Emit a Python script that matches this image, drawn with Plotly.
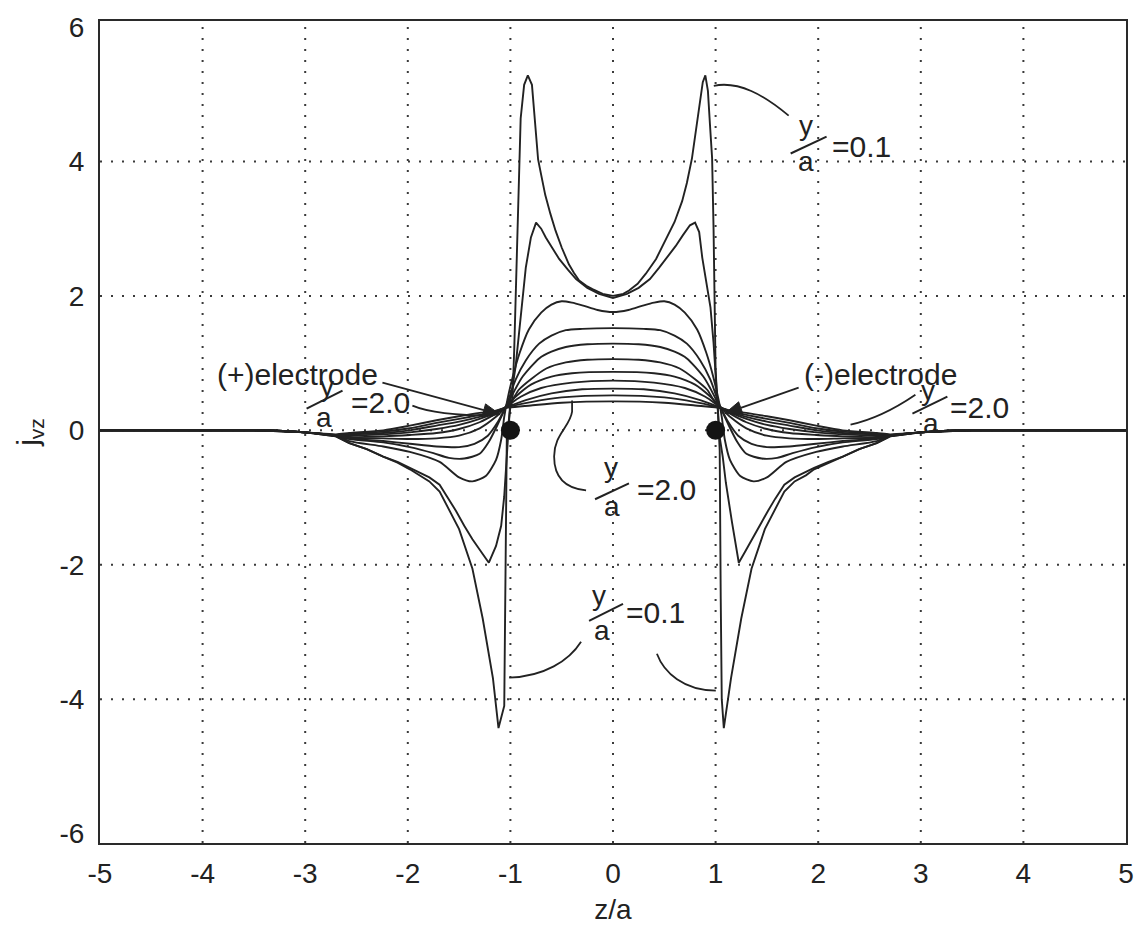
import math
import plotly.graph_objects as go

# ---------------- data ----------------
# y/a = 0.1
z1 = [-5, -4, -3.5, -3, -2.7, -2.57, -2.4, -2.24, -2.1, -1.98, -1.88, -1.79, -1.69, -1.6, -1.5,
      -1.37, -1.27, -1.17, -1.116, -1.06, -1.045, -1.035, -1.0, -0.98, -0.963, -0.946, -0.93, -0.915,
      -0.9, -0.866, -0.83, -0.79, -0.765, -0.73, -0.7, -0.66, -0.61, -0.56, -0.5, -0.43, -0.38, -0.33,
      -0.26, -0.2, -0.1, 0, 0.1, 0.156, 0.24, 0.32, 0.42, 0.51, 0.6, 0.674, 0.72, 0.77, 0.837, 0.875,
      0.9, 0.925, 0.945, 0.966, 0.98, 0.99, 1.0, 1.02, 1.04, 1.05, 1.06, 1.08, 1.15, 1.25, 1.35, 1.48,
      1.58, 1.67, 1.77, 1.88, 1.96, 2.1, 2.24, 2.4, 2.57, 2.7, 3, 3.5, 4, 5]
v1 = [0, 0, 0, -0.03, -0.09, -0.19, -0.28, -0.39, -0.48, -0.58, -0.67, -0.76, -0.91, -1.17, -1.47,
      -2.06, -2.8, -3.69, -4.43, -4.1, -2.0, -0.1, 0.35, 0.45, 1.19, 2.18, 3.16, 3.9,
      4.64, 5.14, 5.28, 5.14, 4.7, 4.03, 3.8, 3.5, 3.22, 2.97, 2.72, 2.47, 2.34, 2.23,
      2.15, 2.1, 2.03, 2.0, 2.03, 2.08, 2.18, 2.33, 2.55, 2.82, 3.1, 3.41, 3.68, 4.05, 4.79, 5.18,
      5.28, 5.05, 4.55, 4.05, 3.0, 1.9, 0.9, 0.35, -0.3, -2.5, -4.0, -4.43, -3.69, -2.8, -2.06, -1.47,
      -1.17, -0.91, -0.76, -0.67, -0.58, -0.48, -0.39, -0.28, -0.19, -0.09, -0.03, 0, 0, 0]

# y/a = 0.2
z2 = [-5, -4, -3.5, -3, -2.7, -2.57, -2.4, -2.24, -2.1, -1.98, -1.79, -1.69, -1.6, -1.53, -1.45,
      -1.37, -1.27, -1.21, -1.14, -1.09, -1.06, -1.03, -1.01, -1.0, -0.95, -0.9, -0.85, -0.8, -0.75,
      -0.7, -0.655, -0.59, -0.525, -0.44, -0.36, -0.25, -0.136, 0, 0.136, 0.25, 0.36, 0.45, 0.53,
      0.61, 0.68, 0.75, 0.8, 0.84, 0.87, 0.91, 0.95, 0.98, 1.0, 1.02, 1.04, 1.07, 1.1, 1.16, 1.226,
      1.29, 1.355, 1.43, 1.51, 1.58, 1.67, 1.77, 1.96, 2.1, 2.24, 2.4, 2.57, 2.7, 3, 3.5, 4, 5]
v2 = [0, 0, 0, -0.03, -0.09, -0.19, -0.28, -0.39, -0.47, -0.56, -0.7, -0.81, -1.02, -1.2, -1.42,
      -1.62, -1.84, -1.97, -1.72, -1.42, -0.98, -0.34, 0.2, 0.45, 0.94, 1.68, 2.42, 2.87, 3.09,
      3.0, 2.87, 2.71, 2.55, 2.39, 2.25, 2.12, 2.03, 1.97, 2.03, 2.12, 2.25, 2.42, 2.58,
      2.74, 2.9, 3.05, 3.09, 2.95, 2.57, 2.2, 1.83, 1.3, 0.85, 0.35, -0.1, -0.4, -0.78, -1.37, -1.97,
      -1.8, -1.62, -1.42, -1.2, -1.02, -0.81, -0.7, -0.56, -0.47, -0.39, -0.28, -0.19, -0.09, -0.03, 0, 0, 0]

# y/a = 0.4
z3 = [-5, -4, -3.5, -3, -2.7, -2.57, -2.24, -1.98, -1.69, -1.5, -1.37, -1.24, -1.14, -1.09, -1.06,
      -1.03, -0.98, -0.91, -0.82, -0.7, -0.6, -0.5, -0.4, -0.3, -0.15, 0, 0.15, 0.3, 0.4, 0.5, 0.6,
      0.7, 0.82, 0.91, 0.98, 1.03, 1.06, 1.09, 1.14, 1.24, 1.37, 1.5, 1.69, 1.98, 2.24, 2.57, 2.7,
      3, 3.5, 4, 5]
v3 = [0, 0, 0, -0.03, -0.08, -0.16, -0.24, -0.32, -0.47, -0.7, -0.76, -0.68, -0.44, -0.14, 0.2,
      0.45, 0.78, 1.15, 1.5, 1.75, 1.87, 1.92, 1.9, 1.86, 1.79, 1.76, 1.79, 1.86, 1.9, 1.92, 1.87,
      1.75, 1.5, 1.15, 0.78, 0.45, 0.2, -0.14, -0.44, -0.68, -0.76, -0.7, -0.47, -0.32, -0.24, -0.16, -0.08,
      -0.03, 0, 0, 0]

# y/a = 0.6
z4 = [-5, -4, -3.5, -3, -2.7, -2.57, -2.24, -1.98, -1.75, -1.6, -1.45, -1.3, -1.21, -1.12, -1.06,
      -1.02, -0.95, -0.85, -0.72, -0.6, -0.46, -0.3, 0, 0.3, 0.46, 0.6, 0.72, 0.85, 0.95, 1.02,
      1.06, 1.12, 1.21, 1.3, 1.45, 1.6, 1.75, 1.98, 2.24, 2.57, 2.7, 3, 3.5, 4, 5]
v4 = [0, 0, 0, -0.03, -0.08, -0.13, -0.18, -0.25, -0.34, -0.41, -0.42, -0.35, -0.17, 0.1, 0.3,
      0.45, 0.75, 1.04, 1.29, 1.41, 1.49, 1.51, 1.52, 1.51, 1.49, 1.41, 1.29, 1.04, 0.75, 0.45,
      0.3, 0.1, -0.17, -0.35, -0.42, -0.41, -0.34, -0.25, -0.18, -0.13, -0.08, -0.03, 0, 0, 0]

# y/a = 0.8
z5 = [-5, -4, -3.5, -3, -2.7, -2.57, -2.24, -1.98, -1.72, -1.5, -1.35, -1.22, -1.12, -1.06, -1.0,
      -0.95, -0.88, -0.72, -0.6, -0.46, -0.25, 0, 0.25, 0.46, 0.6, 0.72, 0.88, 0.95, 1.0, 1.06,
      1.12, 1.22, 1.35, 1.5, 1.72, 1.98, 2.24, 2.57, 2.7, 3, 3.5, 4, 5]
v5 = [0, 0, 0, -0.03, -0.08, -0.12, -0.16, -0.2, -0.24, -0.25, -0.2, -0.08, 0.13, 0.3, 0.47,
      0.62, 0.8, 1.07, 1.17, 1.24, 1.28, 1.29, 1.28, 1.24, 1.17, 1.07, 0.8, 0.62, 0.47, 0.3,
      0.13, -0.08, -0.2, -0.25, -0.24, -0.2, -0.16, -0.12, -0.08, -0.03, 0, 0, 0]

# y/a = 1.0
z6 = [-5, -4, -3.5, -3, -2.7, -2.57, -2.24, -1.98, -1.72, -1.5, -1.3, -1.15, -1.06, -0.98, -0.92,
      -0.8, -0.65, -0.46, -0.25, 0, 0.25, 0.46, 0.65, 0.8, 0.92, 0.98, 1.06, 1.15, 1.3, 1.5,
      1.72, 1.98, 2.24, 2.57, 2.7, 3, 3.5, 4, 5]
v6 = [0, 0, 0, -0.03, -0.08, -0.11, -0.12, -0.13, -0.12, -0.08, 0.03, 0.19, 0.32, 0.45, 0.6,
      0.76, 0.92, 1.01, 1.05, 1.06, 1.05, 1.01, 0.92, 0.76, 0.6, 0.45, 0.32, 0.19, 0.03, -0.08,
      -0.12, -0.13, -0.12, -0.11, -0.08, -0.03, 0, 0, 0]

# y/a = 1.2
z7 = [-5, -4, -3.5, -3, -2.7, -2.57, -2.24, -1.98, -1.72, -1.5, -1.3, -1.15, -1.06, -0.95, -0.8,
      -0.6, -0.4, 0, 0.4, 0.6, 0.8, 0.95, 1.06, 1.15, 1.3, 1.5, 1.72, 1.98, 2.24, 2.57, 2.7,
      3, 3.5, 4, 5]
v7 = [0, 0, 0, -0.03, -0.08, -0.1, -0.09, -0.07, -0.04, 0.02, 0.12, 0.24, 0.33, 0.5, 0.68,
      0.8, 0.85, 0.87, 0.85, 0.8, 0.68, 0.5, 0.33, 0.24, 0.12, 0.02, -0.04, -0.07, -0.09, -0.1, -0.08,
      -0.03, 0, 0, 0]

# y/a = 1.4
z8 = [-5, -4, -3.5, -3, -2.7, -2.57, -2.24, -1.98, -1.72, -1.5, -1.3, -1.15, -1.06, -0.9, -0.7,
      -0.4, 0, 0.4, 0.7, 0.9, 1.06, 1.15, 1.3, 1.5, 1.72, 1.98, 2.24, 2.57, 2.7, 3, 3.5, 4, 5]
v8 = [0, 0, 0, -0.03, -0.08, -0.08, -0.06, -0.03, 0.02, 0.08, 0.17, 0.26, 0.33, 0.5, 0.63,
      0.71, 0.74, 0.71, 0.63, 0.5, 0.33, 0.26, 0.17, 0.08, 0.02, -0.03, -0.06, -0.08, -0.08, -0.03, 0, 0, 0]

# y/a = 1.6
z9 = [-5, -4, -3.5, -3, -2.7, -2.57, -2.24, -1.98, -1.72, -1.5, -1.3, -1.15, -1.06, -0.85, -0.6,
      -0.3, 0, 0.3, 0.6, 0.85, 1.06, 1.15, 1.3, 1.5, 1.72, 1.98, 2.24, 2.57, 2.7, 3, 3.5, 4, 5]
v9 = [0, 0, 0, -0.03, -0.07, -0.06, -0.04, 0.0, 0.07, 0.13, 0.2, 0.27, 0.33, 0.45, 0.55,
      0.61, 0.62, 0.61, 0.55, 0.45, 0.33, 0.27, 0.2, 0.13, 0.07, 0.0, -0.04, -0.06, -0.07, -0.03, 0, 0, 0]

# y/a = 1.8
z10 = [-5, -4, -3.5, -3, -2.7, -2.57, -2.24, -1.98, -1.72, -1.5, -1.3, -1.15, -1.06, -0.8, -0.5,
       0, 0.5, 0.8, 1.06, 1.15, 1.3, 1.5, 1.72, 1.98, 2.24, 2.57, 2.7, 3, 3.5, 4, 5]
v10 = [0, 0, 0, -0.03, -0.07, -0.05, -0.02, 0.03, 0.11, 0.17, 0.23, 0.28, 0.33, 0.42, 0.49,
       0.52, 0.49, 0.42, 0.33, 0.28, 0.23, 0.17, 0.11, 0.03, -0.02, -0.05, -0.07, -0.03, 0, 0, 0]

# y/a = 2.0
z11 = [-5, -4, -3.5, -3, -2.7, -2.57, -2.24, -1.98, -1.72, -1.5, -1.3, -1.15, -1.06, -0.8, -0.5,
       0, 0.5, 0.8, 1.06, 1.15, 1.3, 1.5, 1.72, 1.98, 2.24, 2.57, 2.7, 3, 3.5, 4, 5]
v11 = [0, 0, 0, -0.03, -0.06, -0.04, 0.0, 0.07, 0.15, 0.21, 0.26, 0.29, 0.33, 0.37, 0.41,
       0.43, 0.41, 0.37, 0.33, 0.29, 0.26, 0.21, 0.15, 0.07, 0.0, -0.04, -0.06, -0.03, 0, 0, 0]

electrode_z = [-1, 1]
electrode_v = [0, 0]

x_ticks = [-5, -4, -3, -2, -1, 0, 1, 2, 3, 4, 5]
y_ticks = [-6, -4, -2, 0, 2, 4, 6]
x_grid = [-4, -3, -2, -1, 0, 1, 2, 3, 4]
y_grid = [-4, -2, 0, 2, 4]

curves = [(z1, v1, "linear"), (z2, v2, "linear"), (z3, v3, "spline"), (z4, v4, "spline"),
          (z5, v5, "spline"), (z6, v6, "spline"), (z7, v7, "spline"), (z8, v8, "spline"),
          (z9, v9, "spline"), (z10, v10, "spline"), (z11, v11, "spline")]
for z, v, _ in curves:
    if len(z) != len(v):
        raise ValueError("length mismatch")

# ---------------- layout geometry ----------------
W_FIG, H_FIG = 1146, 946
L, T, W, H = 100, 18, 1028, 825
XR = [-5, 5]
YR = [-6.14, 6.09]
FONT = "Liberation Sans, Arial, sans-serif"
INK = "#222222"


def px(X, Y):
    """pixel position of the page -> data coordinates"""
    return (XR[0] + (X - L) / W * (XR[1] - XR[0]),
            YR[1] - (Y - T) / H * (YR[1] - YR[0]))


def path(cmds):
    out = []
    for c, pts in cmds:
        coords = " ".join("{:.4f},{:.4f}".format(*px(*p)) for p in pts)
        out.append(c + " " + coords)
    return " ".join(out)


fig = go.Figure()
for z, v, shp in curves:
    line = dict(color=INK, width=1.9, shape=shp)
    if shp == "spline":
        line["smoothing"] = 0.7
    fig.add_trace(go.Scatter(x=z, y=v, mode="lines", line=line,
                             hoverinfo="skip", showlegend=False))

fig.add_trace(go.Scatter(x=electrode_z, y=electrode_v, mode="markers",
                         marker=dict(size=19, color="#141414"),
                         hoverinfo="skip", showlegend=False))

shapes = []
dot = dict(color="#3a3a3a", width=2, dash="2px,9px")
for g in x_grid:
    shapes.append(dict(type="line", xref="x", yref="y", x0=g, x1=g, y0=YR[0], y1=YR[1],
                       line=dot, layer="below"))
for g in y_grid:
    shapes.append(dict(type="line", xref="x", yref="y", x0=XR[0], x1=XR[1], y0=g, y1=g,
                       line=dot, layer="below"))

lead = dict(color=INK, width=1.8)
# leader curves of the labels
for cmds in (
    [("M", [(715, 83)]), ("C", [(740, 78), (765, 92), (790, 113)])],
    [("M", [(413, 404)]), ("C", [(432, 412), (462, 414), (494, 414)])],
    [("M", [(852, 423)]), ("C", [(875, 418), (895, 408), (917, 393)])],
    [("M", [(573, 399)]), ("L", [(573, 410)]), ("C", [(571, 425), (555, 433), (555, 455)]),
     ("C", [(555, 476), (566, 487), (587, 489)])],
    [("M", [(582, 641)]), ("C", [(570, 660), (545, 676), (510, 677)])],
    [("M", [(658, 653)]), ("C", [(665, 672), (685, 690), (717, 690)])],
):
    shapes.append(dict(type="path", xref="x", yref="y", line=lead, path=path(cmds)))

# electrode arrows (line + solid head)
for tail, head in (((383, 381), (501, 413)), ((800, 386), (726, 412))):
    dx, dy = head[0] - tail[0], head[1] - tail[1]
    n = math.hypot(dx, dy)
    ux, uy = dx / n, dy / n
    hl, hw = 17, 6.5
    base = (head[0] - ux * hl, head[1] - uy * hl)
    left = (base[0] - uy * hw, base[1] + ux * hw)
    right = (base[0] + uy * hw, base[1] - ux * hw)
    x0, y0 = px(*tail)
    x1, y1 = px(*base)
    shapes.append(dict(type="line", xref="x", yref="y", x0=x0, y0=y0, x1=x1, y1=y1,
                       line=dict(color=INK, width=1.8)))
    shapes.append(dict(type="path", xref="x", yref="y", fillcolor=INK,
                       line=dict(color=INK, width=1),
                       path=path([("M", [head]), ("L", [left]), ("L", [right])]) + " Z"))

annotations = []


def text_at(X, Y, t, size):
    x, y = px(X, Y)
    annotations.append(dict(x=x, y=y, xref="x", yref="y", text=t, showarrow=False,
                            xanchor="center", yanchor="middle",
                            font=dict(family=FONT, size=size, color=INK)))


def frac_label(ycen, acen, s1, s2, eqcen, eqtext):
    text_at(ycen[0], ycen[1], "y", 28)
    text_at(acen[0], acen[1], "a", 28)
    text_at(eqcen[0], eqcen[1], eqtext, 30)
    x0, y0 = px(*s1)
    x1, y1 = px(*s2)
    shapes.append(dict(type="line", xref="x", yref="y", x0=x0, y0=y0, x1=x1, y1=y1,
                       line=dict(color=INK, width=2)))


frac_label((807, 123), (807, 159), (792, 151), (828, 134), (863, 144), "=0.1")
frac_label((327, 385), (324, 416), (307, 407), (343, 389), (381, 401), "=2.0")
frac_label((612, 466), (613, 505), (596, 498), (630, 482), (668, 488), "=2.0")
frac_label((600, 595), (603, 630), (590, 620), (624, 603), (657, 612), "=0.1")
frac_label((930, 389), (933, 422), (914, 412), (949, 395), (981, 406), "=2.0")

text_at(298, 373, "(+)electrode", 30)
text_at(882, 373, "(-)electrode", 30)

axis_common = dict(showgrid=False, zeroline=False, showline=True, mirror=True,
                   linecolor="#2a2a2a", linewidth=2, ticks="",
                   tickfont=dict(family=FONT, size=28, color=INK))

fig.update_layout(
    width=W_FIG, height=H_FIG,
    margin=dict(l=L, r=W_FIG - L - W, t=T, b=H_FIG - T - H),
    paper_bgcolor="white", plot_bgcolor="white",
    xaxis=dict(range=XR, tickvals=x_ticks, ticktext=[str(t) for t in x_ticks],
               ticklabelstandoff=4,
               title=dict(text="z/a", font=dict(family=FONT, size=28, color=INK), standoff=12),
               **axis_common),
    yaxis=dict(range=YR, tickvals=y_ticks, ticktext=[str(t) for t in y_ticks],
               ticklabelstandoff=8,
               title=dict(text="j<sub>vz</sub>", font=dict(family=FONT, size=30, color=INK),
                          standoff=12),
               **axis_common),
    shapes=shapes, annotations=annotations, showlegend=False,
)

fig.write_html("out.html", config={"displayModeBar": False},
               post_script="document.body.style.margin='0px';")
